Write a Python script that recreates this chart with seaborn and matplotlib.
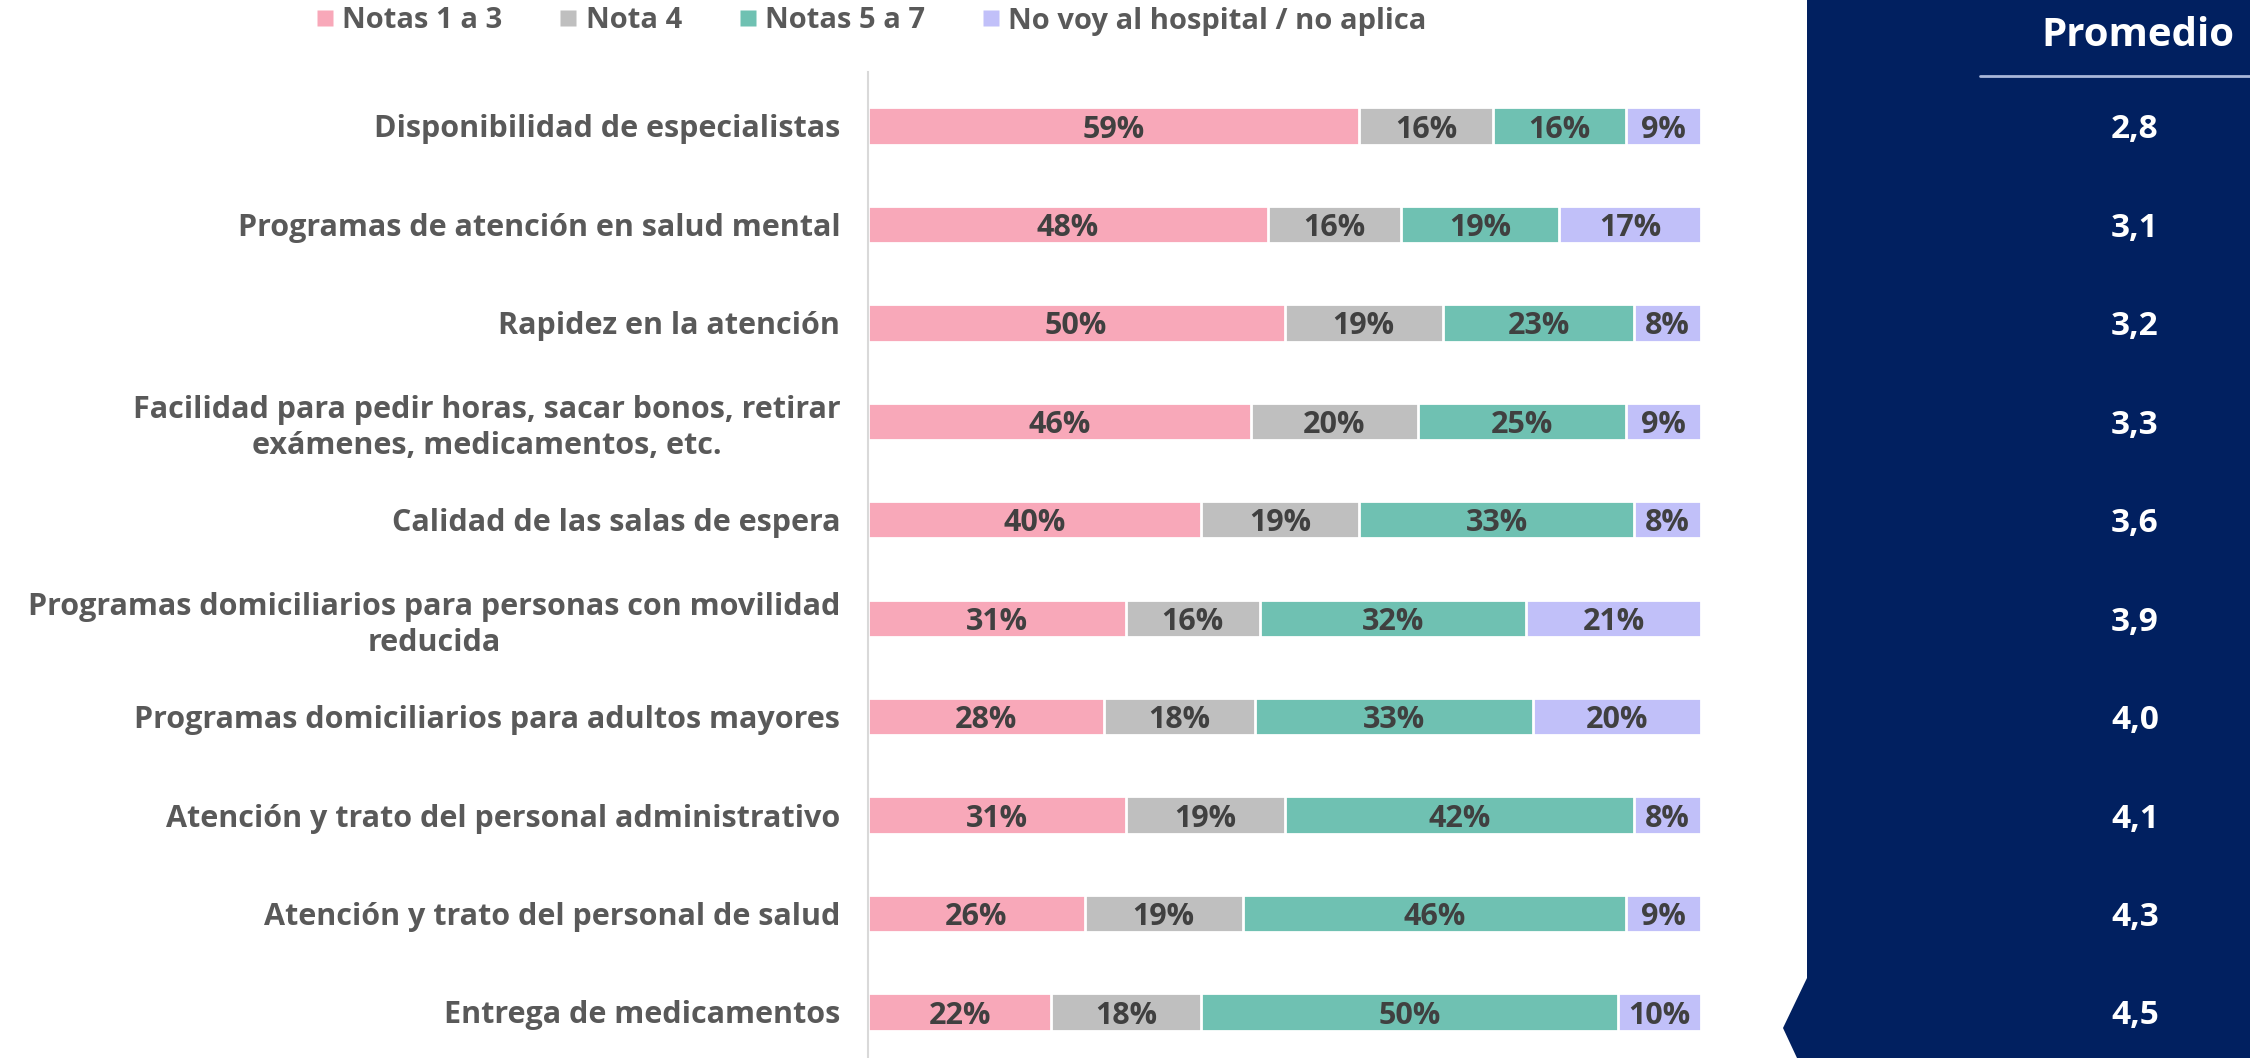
import numpy as np
import pandas as pd
import matplotlib.pyplot as plt
import seaborn as sns
from matplotlib.patches import Polygon
from matplotlib.lines import Line2D
from matplotlib.transforms import blended_transform_factory

# ---- data ----
categories = [
    "Disponibilidad de especialistas",
    "Programas de atención en salud mental",
    "Rapidez en la atención",
    "Facilidad para pedir horas, sacar bonos, retirar\nexámenes, medicamentos, etc.",
    "Calidad de las salas de espera",
    "Programas domiciliarios para personas con movilidad\nreducida",
    "Programas domiciliarios para adultos mayores",
    "Atención y trato del personal administrativo",
    "Atención y trato del personal de salud",
    "Entrega de medicamentos",
]
series_names = ["Notas 1 a 3", "Nota 4", "Notas 5 a 7", "No voy al hospital / no aplica"]
notas_1_3 = [59, 48, 50, 46, 40, 31, 28, 31, 26, 22]
nota_4 = [16, 16, 19, 20, 19, 16, 18, 19, 19, 18]
notas_5_7 = [16, 19, 23, 25, 33, 32, 33, 42, 46, 50]
no_aplica = [9, 17, 8, 9, 8, 21, 20, 8, 9, 10]
promedio = ["2,8", "3,1", "3,2", "3,3", "3,6", "3,9", "4,0", "4,1", "4,3", "4,5"]

colors = ["#F8A8B9", "#BFBFBF", "#6FC1B2", "#C1C0F9"]
NAVY = "#012060"
LABEL_GRAY = "#595959"
VALUE_GRAY = "#404040"

sns.set_theme(style="white")
plt.rcParams["font.family"] = ["Open Sans", "DejaVu Sans"]

W, H = 2250, 1058
fig = plt.figure(figsize=(22.5, 10.58), dpi=100)

# navy side panel with notch at the bottom-left
panel = Polygon(
    [(1807 / W, 1), (1, 1), (1, 0), (1797 / W, 0),
     (1783 / W, 1 - 1028 / H), (1807 / W, 1 - 978 / H)],
    closed=True, transform=fig.transFigure, facecolor=NAVY, edgecolor="none", zorder=0)
fig.patches.append(panel)

# axes placement: rows 0..9, first center at y=126px, spacing ~98.4px
row_gap = (1012 - 126) / 9
ax_top = 72
ylim_top = -(126 - ax_top) / row_gap
ylim_bot = 9 + (H - 1012) / row_gap
ax = fig.add_axes([868 / W, 0, (1701 - 868) / W, 1 - ax_top / H])
ax.set_zorder(2)

df = pd.DataFrame({
    "categoria": categories,
    "n13": notas_1_3, "n4": nota_4, "n57": notas_5_7, "na": no_aplica,
})
parts = df[["n13", "n4", "n57", "na"]].to_numpy(dtype=float)
shares = parts / parts.sum(axis=1, keepdims=True) * 100
cum = np.cumsum(shares, axis=1)

# stacked bars: draw cumulative totals from the largest down
for i in range(3, -1, -1):
    plot_df = pd.DataFrame({"categoria": categories, "valor": cum[:, i]})
    sns.barplot(data=plot_df, x="valor", y="categoria", order=categories,
                color=colors[i], orient="h", width=0.38, edgecolor="white",
                linewidth=2, saturation=1, ax=ax, zorder=2)

# percentage labels
for r in range(len(categories)):
    left = 0
    for i in range(4):
        w = shares[r, i]
        ax.text(left + w / 2, r, f"{int(parts[r, i])}%", ha="center", va="center_baseline",
                fontsize=22, fontweight="bold", color=VALUE_GRAY, zorder=3)
        left += w

ax.set_xlim(0, 100)
ax.set_ylim(ylim_bot, ylim_top)
ax.set_xlabel("")
ax.set_ylabel("")
ax.set_xticks([])
ax.tick_params(axis="y", length=0, pad=20)
for lab in ax.get_yticklabels():
    lab.set_fontsize(22)
    lab.set_fontweight("bold")
    lab.set_color(LABEL_GRAY)
    lab.set_multialignment("center")
    lab.set_linespacing(1.28)
for s in ["top", "right", "bottom"]:
    ax.spines[s].set_visible(False)
ax.spines["left"].set_color("#D9D9D9")
ax.spines["left"].set_linewidth(1.5)
ax.patch.set_alpha(0)

# promedio column
fig.text(2138 / W, 1 - 36 / H, "Promedio", ha="center", va="center",
         fontsize=29, fontweight="bold", color="white", zorder=3)
fig.add_artist(Line2D([1980 / W, 1], [1 - 76 / H, 1 - 76 / H],
                      transform=fig.transFigure, color="#A9B7DA", linewidth=2, zorder=3))
trans = blended_transform_factory(fig.transFigure, ax.transData)
for r, val in enumerate(promedio):
    ax.text(2135 / W, r, val, transform=trans, ha="center", va="center_baseline",
            fontsize=24, fontweight="bold", color="white", clip_on=False)

# legend
handles = [Line2D([0], [0], marker="s", linestyle="none", markersize=12,
                  markerfacecolor=c, markeredgecolor="none") for c in colors]
fig.legend(handles, series_names, loc="center", bbox_to_anchor=(872 / W, 1 - 21 / H),
           ncol=4, frameon=False, handlelength=0.5, handletextpad=0.35,
           columnspacing=2.0, borderpad=0.2,
           prop={"weight": "bold", "size": 21}, labelcolor=LABEL_GRAY)

fig.savefig("out.png", dpi=100, facecolor="white")
